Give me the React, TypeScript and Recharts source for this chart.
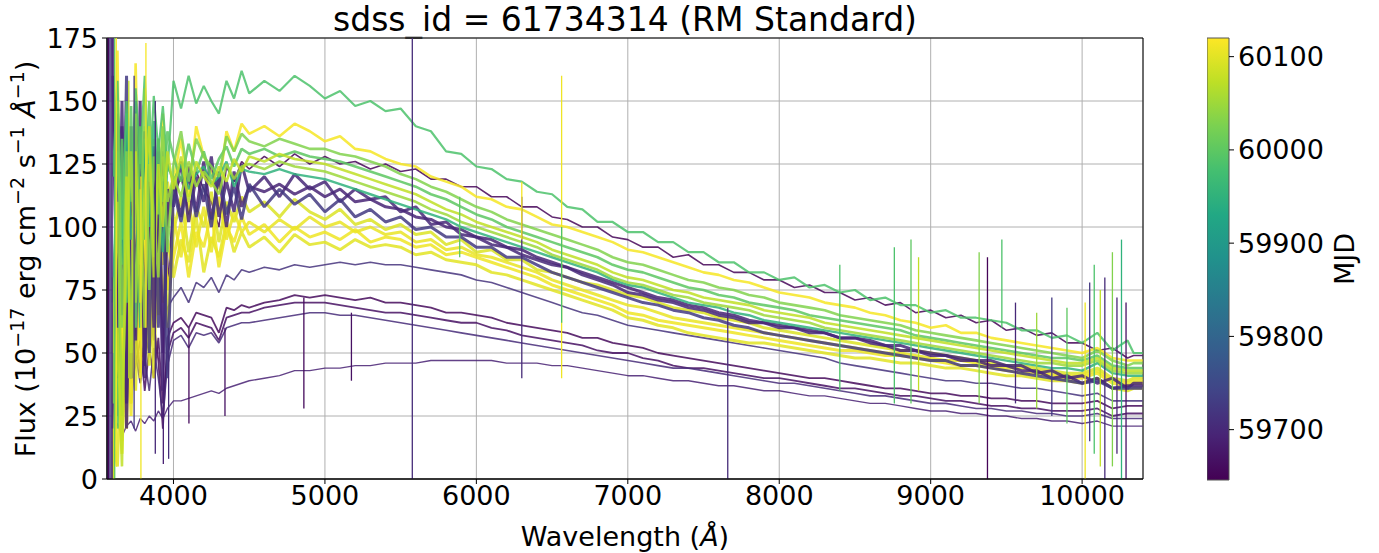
import React from "react";
import {
  LineChart,
  Line,
  XAxis,
  YAxis,
  CartesianGrid,
  ReferenceLine,
  ReferenceArea,
  ComposedChart,
} from "recharts";

const FONT = "DejaVu Sans, Verdana, sans-serif";

// wavelength grid (Angstrom): fine in the noisy blue end
const WAVE = [
  3600, 3630, 3660, 3690, 3720, 3750, 3780, 3810, 3840, 3870, 3900, 3930, 3960,
  4000, 4050, 4100, 4150, 4200, 4250, 4300, 4350, 4400, 4450,
  4500, 4600, 4700, 4800, 4900, 5000, 5100, 5200, 5300, 5400,
  5500, 5600, 5700, 5800, 5900, 6000, 6100, 6200, 6300, 6400,
  6500, 6600, 6700, 6800, 6900, 7000, 7100, 7200, 7300, 7400,
  7500, 7600, 7700, 7800, 7900, 8000, 8100, 8200, 8300, 8400,
  8500, 8600, 8700, 8800, 8900, 9000, 9100, 9200, 9300, 9400,
  9500, 9600, 9700, 9800, 9900, 10000, 10100, 10200, 10300,
  10340, 10400,
];

// flux per epoch, 1e-17 erg/cm2/s/A
const FLUX_59652 = [
  60, 140, 70, 125, 80, 135, 90, 128, 95, 120, 85, 130, 75,
  112, 120, 105, 122, 115, 110, 100, 124, 118, 126,
  123, 128, 124, 129, 125, 128, 125, 126, 123, 125,
  122, 123, 119, 119, 116, 116, 112, 112, 108, 108,
  104, 103, 100, 100, 96, 95, 92, 92, 88, 89,
  85, 85, 82, 82, 79, 79, 76, 77, 74, 74,
  71, 72, 69, 70, 66, 67, 64, 65, 62, 63,
  59, 60, 57, 58, 54, 54, 51, 52, 48,
  49, 49,
];
const FLUX_59658 = [
  45, 30, 55, 40, 48, 60, 42, 58, 50, 62, 47, 20, 56,
  62, 64, 60, 66, 65, 64, 58, 68, 67, 69,
  68, 70, 71, 73, 72, 73, 72, 71, 72, 70,
  70, 69, 68, 66, 66, 65, 64, 62, 61, 60,
  59, 58, 56, 56, 54, 53, 52, 50, 49, 48,
  47, 46, 45, 44, 43, 42, 41, 40, 40, 39,
  38, 37, 36, 36, 35, 34, 34, 33, 33, 32,
  32, 31, 31, 30, 30, 30, 31, 28, 29,
  29, 29,
];
const FLUX_59668 = [
  35, 50, 28, 52, 38, 45, 55, 35, 52, 40, 56, 30, 50,
  58, 60, 56, 62, 61, 60, 55, 64, 65, 66,
  66, 68, 69, 70, 70, 70, 69, 68, 67, 66,
  66, 65, 64, 63, 62, 62, 60, 59, 57, 56,
  55, 54, 53, 51, 50, 50, 48, 47, 45, 44,
  44, 43, 42, 41, 40, 40, 39, 38, 37, 36,
  36, 35, 34, 33, 33, 32, 31, 31, 30, 29,
  29, 28, 28, 27, 27, 27, 28, 25, 26,
  26, 26,
];
const FLUX_59690 = [
  18, 22, 17, 21, 23, 19, 24, 22, 25, 23, 27, 24, 28,
  31, 31, 32, 33, 34, 35, 34, 36, 37, 38,
  39, 40, 41, 43, 43, 44, 44, 45, 45, 46,
  46, 46, 47, 47, 47, 47, 47, 46, 46, 46,
  45, 45, 44, 43, 42, 41, 41, 40, 39, 39,
  38, 37, 37, 36, 35, 35, 34, 33, 33, 32,
  31, 30, 30, 29, 28, 27, 27, 26, 26, 25,
  25, 24, 24, 23, 23, 22, 23, 21, 21,
  21, 21,
];
const FLUX_59695 = [
  160, 60, 140, 20, 130, 70, 150, 40, 110, 80, 135, 50, 105,
  118, 104, 124, 106, 126, 103, 120, 100, 122, 108,
  116, 114, 117, 113, 116, 112, 115, 110, 111, 108,
  107, 104, 103, 100, 99, 96, 95, 92, 91, 88,
  86, 84, 82, 80, 78, 76, 74, 72, 71, 69,
  68, 66, 65, 63, 62, 61, 60, 59, 58, 56,
  56, 54, 53, 51, 51, 49, 49, 47, 47, 45,
  45, 43, 43, 40, 41, 38, 40, 36, 37,
  37, 37,
];
const FLUX_59700 = [
  175, 40, 150, 30, 140, 55, 130, 45, 125, 60, 120, 35, 115,
  108, 126, 102, 120, 110, 128, 104, 118, 106, 125,
  114, 120, 112, 121, 115, 118, 110, 115, 111, 112,
  106, 108, 101, 102, 97, 96, 93, 92, 89, 87,
  85, 84, 81, 79, 77, 74, 73, 71, 70, 68,
  67, 65, 64, 62, 62, 60, 60, 58, 58, 56,
  56, 55, 53, 53, 51, 50, 49, 48, 47, 47,
  45, 45, 42, 43, 40, 41, 38, 40, 36,
  38, 38,
];
const FLUX_59705 = [
  30, 42, 22, 45, 30, 50, 38, 48, 35, 52, 40, 25, 45,
  55, 57, 52, 58, 57, 58, 54, 60, 61, 62,
  62, 63, 64, 65, 66, 66, 65, 65, 64, 63,
  62, 61, 60, 59, 58, 57, 56, 55, 54, 53,
  52, 51, 50, 49, 48, 47, 46, 45, 44, 44,
  43, 42, 41, 40, 39, 38, 38, 37, 36, 35,
  34, 33, 33, 32, 31, 30, 30, 29, 28, 28,
  27, 27, 26, 26, 25, 25, 26, 24, 24,
  24, 24,
];
const FLUX_59715 = [
  60, 25, 75, 40, 85, 50, 70, 45, 80, 55, 75, 60, 68,
  72, 76, 70, 78, 76, 80, 74, 81, 79, 83,
  82, 84, 83, 85, 84, 85, 86, 85, 86, 85,
  85, 84, 83, 82, 81, 79, 78, 76, 74, 72,
  70, 68, 66, 65, 63, 61, 60, 59, 58, 57,
  56, 55, 54, 53, 52, 51, 50, 49, 48, 46,
  45, 44, 43, 42, 41, 40, 39, 39, 38, 38,
  37, 36, 36, 35, 34, 33, 34, 31, 31,
  31, 31,
];
const FLUX_59725 = [
  20, 145, 65, 160, 40, 150, 70, 138, 50, 132, 60, 118, 40,
  115, 102, 121, 104, 117, 100, 122, 105, 116, 103,
  117, 108, 115, 109, 113, 106, 111, 104, 107, 102,
  104, 99, 100, 96, 96, 92, 92, 88, 88, 85,
  82, 80, 78, 76, 74, 72, 70, 69, 67, 66,
  64, 63, 61, 60, 58, 57, 56, 55, 54, 53,
  52, 51, 50, 49, 48, 47, 47, 45, 45, 44,
  43, 42, 41, 40, 39, 38, 39, 36, 36,
  36, 36,
];
const FLUX_59950 = [
  70, 130, 85, 145, 95, 120, 60, 135, 100, 142, 112, 90, 125,
  118, 125, 115, 121, 124, 117, 120, 126, 116, 123,
  122, 121, 123, 121, 120, 119, 117, 115, 113, 111,
  109, 107, 105, 103, 100, 98, 96, 94, 92, 90,
  88, 86, 84, 82, 79, 77, 76, 74, 72, 70,
  69, 68, 66, 65, 63, 62, 61, 60, 59, 58,
  57, 56, 55, 54, 53, 52, 51, 50, 49, 48,
  47, 46, 45, 44, 44, 43, 46, 42, 41,
  41, 41,
];
const FLUX_59985 = [
  120, 158, 95, 150, 110, 155, 125, 160, 118, 152, 130, 148, 122,
  158, 147, 160, 149, 156, 150, 145, 158, 151, 162,
  153, 158, 154, 160, 156, 151, 154, 148, 150, 146,
  147, 140, 138, 130, 129, 124, 123, 119, 118, 114,
  113, 108, 107, 102, 102, 98, 98, 94, 94, 90,
  90, 86, 86, 82, 82, 79, 80, 76, 77, 74,
  75, 71, 72, 69, 69, 66, 67, 64, 64, 63,
  62, 59, 59, 56, 57, 54, 58, 51, 55,
  50, 50,
];
const FLUX_60000 = [
  80, 20, 135, 70, 148, 60, 140, 95, 150, 88, 135, 110, 138,
  128, 118, 133, 122, 130, 119, 127, 132, 124, 131,
  129, 131, 128, 130, 128, 127, 126, 124, 122, 120,
  118, 116, 113, 111, 108, 105, 103, 100, 98, 96,
  94, 92, 90, 88, 85, 83, 82, 80, 78, 76,
  75, 73, 72, 70, 69, 68, 67, 65, 64, 63,
  62, 61, 60, 59, 57, 56, 55, 54, 53, 52,
  51, 50, 49, 48, 48, 47, 49, 45, 44,
  44, 44,
];
const FLUX_60030 = [
  30, 150, 60, 130, 50, 145, 85, 155, 75, 128, 105, 140, 90,
  125, 138, 118, 135, 128, 124, 120, 136, 130, 137,
  134, 132, 135, 133, 131, 131, 129, 128, 126, 124,
  121, 119, 116, 114, 111, 108, 106, 103, 101, 99,
  97, 95, 93, 91, 88, 86, 85, 83, 81, 79,
  78, 76, 75, 73, 72, 70, 69, 68, 67, 65,
  64, 63, 62, 61, 59, 58, 57, 56, 55, 54,
  53, 52, 51, 50, 49, 48, 51, 47, 45,
  46, 46,
];
const FLUX_60050 = [
  50, 110, 25, 90, 130, 70, 115, 60, 125, 105, 80, 128, 110,
  120, 112, 126, 116, 122, 118, 113, 125, 119, 124,
  125, 123, 126, 124, 123, 122, 120, 118, 116, 114,
  112, 110, 107, 105, 102, 100, 98, 96, 94, 92,
  89, 87, 85, 83, 80, 78, 77, 75, 73, 72,
  70, 69, 68, 67, 65, 64, 63, 62, 60, 59,
  58, 57, 56, 55, 54, 53, 52, 51, 50, 49,
  48, 47, 46, 46, 45, 45, 47, 43, 42,
  42, 42,
];
const FLUX_60075 = [
  0, 60, 5, 120, 40, 130, 70, 115, 140, 80, 125, 100, 130,
  115, 128, 110, 126, 120, 116, 124, 118, 127, 122,
  128, 126, 129, 127, 126, 125, 123, 121, 119, 117,
  115, 113, 110, 107, 105, 102, 100, 98, 96, 94,
  91, 89, 87, 85, 82, 80, 79, 77, 75, 74,
  72, 71, 70, 69, 67, 66, 65, 64, 62, 61,
  60, 59, 58, 57, 56, 55, 54, 53, 52, 51,
  50, 49, 48, 47, 46, 46, 48, 44, 43,
  43, 43,
];
const FLUX_60095 = [
  5, 90, 15, 110, 30, 125, 55, 105, 45, 115, 70, 120, 60,
  98, 112, 90, 108, 100, 114, 94, 110, 102, 112,
  106, 110, 104, 111, 106, 103, 107, 101, 103, 99,
  101, 97, 98, 93, 95, 90, 91, 87, 87, 83,
  82, 80, 78, 77, 75, 73, 72, 70, 68, 67,
  66, 64, 63, 62, 60, 59, 58, 57, 56, 55,
  54, 53, 52, 51, 51, 50, 49, 48, 47, 46,
  45, 45, 44, 43, 42, 42, 44, 40, 39,
  40, 40,
];
const FLUX_60100 = [
  15, 5, 60, 20, 85, 35, 100, 50, 95, 40, 105, 70, 95,
  80, 95, 86, 104, 82, 96, 88, 102, 90, 98,
  92, 96, 90, 97, 93, 94, 91, 95, 92, 93,
  92, 89, 90, 87, 86, 85, 82, 81, 79, 77,
  75, 73, 71, 69, 67, 64, 63, 61, 60, 58,
  57, 56, 55, 54, 54, 53, 52, 51, 50, 49,
  48, 48, 47, 46, 46, 45, 44, 44, 43, 42,
  41, 41, 40, 39, 39, 38, 40, 36, 35,
  36, 36,
];
const FLUX_60105 = [
  30, 120, 20, 100, 50, 140, 65, 90, 120, 60, 110, 85, 118,
  104, 88, 110, 92, 108, 90, 112, 95, 106, 98,
  102, 98, 103, 99, 104, 100, 102, 98, 100, 97,
  98, 94, 95, 91, 92, 89, 88, 86, 84, 82,
  79, 77, 75, 73, 71, 69, 68, 66, 64, 63,
  62, 61, 60, 59, 58, 57, 56, 55, 54, 53,
  52, 51, 50, 50, 49, 48, 47, 47, 46, 45,
  44, 44, 43, 42, 41, 41, 43, 39, 38,
  39, 39,
];
const FLUX_60110 = [
  0, 45, 10, 70, 25, 95, 40, 110, 55, 100, 65, 108, 75,
  88, 102, 80, 98, 92, 106, 84, 100, 94, 104,
  97, 101, 94, 100, 96, 98, 95, 99, 94, 96,
  95, 92, 93, 89, 90, 88, 86, 84, 82, 80,
  77, 75, 73, 71, 69, 66, 65, 63, 62, 61,
  60, 59, 58, 57, 56, 55, 54, 53, 52, 51,
  51, 50, 49, 49, 48, 47, 46, 45, 45, 44,
  43, 42, 42, 41, 40, 40, 42, 38, 37,
  38, 38,
];
const FLUX_60115 = [
  10, 170, 40, 150, 60, 165, 80, 140, 70, 135, 95, 145, 100,
  118, 135, 112, 140, 128, 122, 115, 138, 130, 141,
  137, 140, 136, 141, 138, 134, 136, 131, 130, 127,
  125, 124, 120, 118, 116, 112, 111, 108, 107, 104,
  101, 100, 98, 96, 94, 91, 90, 88, 86, 84,
  82, 81, 79, 78, 76, 74, 73, 72, 70, 69,
  68, 66, 65, 63, 62, 60, 61, 58, 58, 56,
  55, 54, 53, 52, 51, 50, 52, 48, 47,
  47, 47,
];

// drawing order: faint purple epochs, yellow epochs, noisy purple epochs, green epochs
const SPECTRA = [
  { mjd: 59652, flux: FLUX_59652 },
  { mjd: 59658, flux: FLUX_59658 },
  { mjd: 59668, flux: FLUX_59668 },
  { mjd: 59690, flux: FLUX_59690 },
  { mjd: 59705, flux: FLUX_59705 },
  { mjd: 59715, flux: FLUX_59715 },
  { mjd: 60095, flux: FLUX_60095 },
  { mjd: 60100, flux: FLUX_60100 },
  { mjd: 60105, flux: FLUX_60105 },
  { mjd: 60110, flux: FLUX_60110 },
  { mjd: 60115, flux: FLUX_60115 },
  { mjd: 59695, flux: FLUX_59695 },
  { mjd: 59700, flux: FLUX_59700 },
  { mjd: 59725, flux: FLUX_59725 },
  { mjd: 59950, flux: FLUX_59950 },
  { mjd: 59985, flux: FLUX_59985 },
  { mjd: 60000, flux: FLUX_60000 },
  { mjd: 60030, flux: FLUX_60030 },
  { mjd: 60050, flux: FLUX_60050 },
  { mjd: 60075, flux: FLUX_60075 },
];

// single-pixel features (sky lines, absorption lines, bad pixels): [wave, lo, hi, mjd]
const SPIKES = [
  [3565, 0, 175, 59700],
  [3572, 0, 175, 59652],
  [3580, 0, 175, 59725],
  [3588, 0, 175, 59705],
  [3595, 0, 175, 59700],
  [3612, 0, 175, 60000],
  [3622, 5, 175, 60115],
  [3705, 40, 158, 60075],
  [3740, 20, 160, 59725],
  [3785, 0, 120, 60110],
  [3818, 60, 173, 60115],
  [3880, 10, 150, 59700],
  [3933, 6, 60, 59690],
  [3968, 8, 60, 59705],
  [4102, 22, 60, 59658],
  [4340, 25, 60, 59668],
  [4861, 28, 72, 59658],
  [5175, 39, 66, 59668],
  [5577, 0, 175, 59705],
  [5890, 88, 112, 60000],
  [6300, 40, 112, 59705],
  [6300, 95, 118, 60115],
  [6563, 40, 160, 60110],
  [6563, 62, 100, 59985],
  [7660, 0, 68, 59705],
  [8400, 35, 85, 59985],
  [8760, 30, 92, 59985],
  [8870, 30, 95, 60000],
  [8920, 35, 88, 60075],
  [9320, 30, 90, 60030],
  [9375, 0, 88, 59652],
  [9470, 60, 95, 59985],
  [9560, 30, 70, 59700],
  [9700, 28, 66, 60050],
  [9800, 25, 72, 59725],
  [9900, 22, 68, 60000],
  [10020, 0, 70, 60110],
  [10050, 15, 78, 59725],
  [10080, 10, 85, 59985],
  [10120, 5, 75, 60075],
  [10150, 0, 80, 59705],
  [10200, 5, 90, 60030],
  [10230, 10, 72, 59695],
  [10260, 0, 95, 59950],
  [10290, 0, 70, 59668],
];

const X_TICKS = [4000, 5000, 6000, 7000, 8000, 9000, 10000];
const Y_TICKS = [0, 25, 50, 75, 100, 125, 150, 175];
const MJD_TICKS = [59700, 59800, 59900, 60000, 60100];
const MJD_MIN = 59646;
const MJD_MAX = 60120;

// stroke width per epoch: noisy spectra drawn as thicker fuzzy bands
const LINE_WIDTH: Record<number, number> = {
  59652: 1.6, 59658: 1.8, 59668: 1.8, 59690: 1.4, 59705: 1.6, 59715: 1.6,
  59695: 3, 59700: 3, 59725: 3,
  59950: 2.4, 59985: 2.2, 60000: 2.6, 60030: 2.6, 60050: 2.6, 60075: 2.6,
  60095: 3, 60100: 3, 60105: 3, 60110: 3, 60115: 2.6,
};

const VIRIDIS = [
  "#440154", "#482475", "#414487", "#355f8d", "#2a788e", "#21918c",
  "#22a884", "#44bf70", "#7ad151", "#bddf26", "#fde725",
];

function mixHex(a: string, b: string, f: number) {
  const pa = [1, 3, 5].map((i) => parseInt(a.slice(i, i + 2), 16));
  const pb = [1, 3, 5].map((i) => parseInt(b.slice(i, i + 2), 16));
  const c = pa.map((v, i) => Math.round(v + (pb[i] - v) * f));
  return "rgb(" + c.join(",") + ")";
}

function viridis(mjd: number) {
  let t = (mjd - MJD_MIN) / (MJD_MAX - MJD_MIN);
  t = Math.max(0, Math.min(1, t)) * 10;
  const i = Math.min(9, Math.floor(t));
  return mixHex(VIRIDIS[i], VIRIDIS[i + 1], t - i);
}

const rows = WAVE.map((w, i) => {
  const r: Record<string, number> = { w };
  SPECTRA.forEach((s) => {
    r["m" + s.mjd] = s.flux[i];
  });
  return r;
});

const tickStyle = { fontSize: 27, fill: "#000", fontFamily: FONT };

function XLabel() {
  return (
    <text x={625} y={546} textAnchor="middle" fontSize={27} fontFamily={FONT} fill="#000">
      Wavelength (<tspan fontStyle="italic">Å</tspan>)
    </text>
  );
}

function YLabel() {
  const sup = { fontSize: 19 };
  return (
    <text
      x={0}
      y={0}
      transform="translate(35,259) rotate(-90)"
      textAnchor="middle"
      fontSize={27}
      fontFamily={FONT}
      fill="#000"
    >
      Flux (10
      <tspan dy={-11} {...sup}>−17</tspan>
      <tspan dy={11}> erg cm</tspan>
      <tspan dy={-11} {...sup}>−2</tspan>
      <tspan dy={11}> s</tspan>
      <tspan dy={-11} {...sup}>−1</tspan>
      <tspan dy={11}> </tspan>
      <tspan fontStyle="italic">Å</tspan>
      <tspan dy={-11} {...sup}>−1</tspan>
      <tspan dy={11}>)</tspan>
    </text>
  );
}

function MjdLabel() {
  return (
    <text
      x={0}
      y={0}
      transform="translate(147,259) rotate(-90)"
      textAnchor="middle"
      fontSize={27}
      fontFamily={FONT}
      fill="#000"
    >
      MJD
    </text>
  );
}

function Colorbar() {
  return (
    <ComposedChart
      width={172}
      height={553}
      data={[{ x: 0, v: MJD_MIN }, { x: 1, v: MJD_MAX }]}
      margin={{ top: 38, right: 90, bottom: 73, left: 0 }}
    >
      <defs>
        <linearGradient id="viridis" x1="0" y1="1" x2="0" y2="0">
          {VIRIDIS.map((c, i) => (
            <stop key={i} offset={i / 10} stopColor={c} />
          ))}
        </linearGradient>
      </defs>
      <XAxis dataKey="x" type="number" domain={[0, 1]} hide />
      <YAxis
        orientation="right"
        type="number"
        domain={[MJD_MIN, MJD_MAX]}
        ticks={MJD_TICKS}
        width={60}
        tickSize={5}
        tickMargin={4}
        tick={tickStyle}
        axisLine={false}
        tickLine={{ stroke: "#000" }}
        allowDataOverflow
        label={<MjdLabel />}
      />
      <ReferenceArea
        x1={0}
        x2={1}
        y1={MJD_MIN}
        y2={MJD_MAX}
        fill="url(#viridis)"
        fillOpacity={1}
        stroke="#555"
        strokeWidth={1}
        ifOverflow="visible"
      />
      <Line dataKey="v" stroke="none" dot={false} isAnimationActive={false} />
    </ComposedChart>
  );
}

export default function App() {
  return (
    <div style={{ position: "absolute", left: 0, top: 0, width: 1379, height: 553, background: "#fff" }}>
      <div
        style={{
          position: "absolute",
          left: 0,
          top: 0,
          width: 1250,
          textAlign: "center",
          fontFamily: FONT,
          fontSize: 33,
          lineHeight: "40px",
          color: "#000",
        }}
      >
        sdss_id = 61734314 (RM Standard)
      </div>
      <div style={{ position: "absolute", left: 0, top: 0 }}>
        <LineChart
          width={1379}
          height={553}
          data={rows}
          margin={{ top: 38, right: 236, bottom: 34, left: 37 }}
        >
          <CartesianGrid stroke="#b0b0b0" strokeWidth={1} />
          <XAxis
            dataKey="w"
            type="number"
            domain={[3561, 10402]}
            ticks={X_TICKS}
            height={40}
            tickSize={5}
            tickMargin={2}
            tick={tickStyle}
            axisLine={{ stroke: "#000" }}
            tickLine={{ stroke: "#000" }}
            allowDataOverflow
            label={<XLabel />}
          />
          <YAxis
            type="number"
            domain={[0, 175]}
            ticks={Y_TICKS}
            width={70}
            tickSize={5}
            tickMargin={4}
            tick={tickStyle}
            axisLine={{ stroke: "#000" }}
            tickLine={{ stroke: "#000" }}
            allowDataOverflow
            label={<YLabel />}
          />
          {SPECTRA.map((s) => (
            <Line
              key={s.mjd}
              dataKey={"m" + s.mjd}
              type="linear"
              stroke={viridis(s.mjd)}
              strokeWidth={LINE_WIDTH[s.mjd] || 2}
              strokeOpacity={0.85}
              strokeLinejoin="bevel"
              dot={false}
              isAnimationActive={false}
            />
          ))}
          {SPIKES.map(([w, lo, hi, m], i) => (
            <ReferenceLine
              key={"sp" + i}
              segment={[
                { x: w, y: lo },
                { x: w, y: hi },
              ]}
              stroke={viridis(m)}
              strokeWidth={1.3}
            />
          ))}
          <ReferenceArea
            x1={3561}
            x2={10402}
            y1={0}
            y2={175}
            fill="none"
            stroke="#000"
            strokeWidth={1}
            ifOverflow="visible"
          />
        </LineChart>
      </div>
      <div style={{ position: "absolute", left: 1207, top: 0 }}>
        <Colorbar />
      </div>
    </div>
  );
}
